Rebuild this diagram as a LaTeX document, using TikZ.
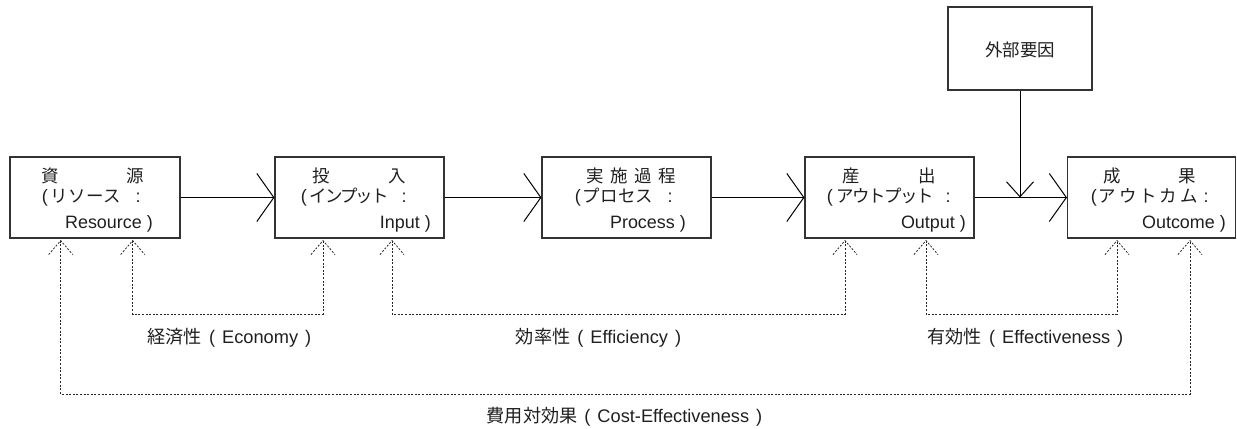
\documentclass[tikz,border=0pt]{standalone}
\usepackage{fontspec}
\setmainfont{Liberation Sans}
\newfontfamily\cjkfont{Noto Sans CJK JP}
\newcommand\jtext[1]{{\cjkfont\fontsize{18.2}{18.2}\selectfont #1}}
\newcommand\gapsp{\hspace{7bp}}
\usetikzlibrary{arrows.meta,calc}
\newcommand\dtip[1]{\draw[dotline] ($(#1)+(-12,14)$) -- (#1) -- ($(#1)+(12,14)$);}
\begin{document}
\begin{tikzpicture}[x=1bp,y=-1bp,
 box/.style={draw=black!80,line width=1.1bp,minimum height=81bp,inner sep=0pt},
 cj/.style={anchor=base west,inner sep=0pt,text=black!88,font=\cjkfont\fontsize{17.5}{17.5}\selectfont},
 lt/.style={anchor=base west,inner sep=0pt,text=black!88,font=\fontsize{18}{18}\selectfont},
 lte/.style={lt,anchor=base east},
 lab/.style={anchor=base,inner sep=0pt,text=black!88,font=\fontsize{18.3}{18.3}\selectfont},
 flow/.style={line width=1bp,-{Straight Barb[length=17bp,width=48bp,line width=1bp]}},
 down/.style={line width=1bp,-{Straight Barb[length=15bp,width=27bp,line width=1bp]}},
 dotline/.style={line width=0.8bp,dash pattern=on 2bp off 1.6bp,black!85}]
\useasboundingbox (0,0) rectangle (1237,428);

% boxes
\node[box,minimum width=170bp] (b1) at (95,197.5) {};
\node[box,minimum width=169bp] (b2) at (359.5,197.5) {};
\node[box,minimum width=169bp] (b3) at (626.5,197.5) {};
\node[box,minimum width=169bp] (b4) at (889.5,197.5) {};
\node[box,minimum width=168bp] (b5) at (1151.5,197.5) {};
\node[box,minimum width=144bp,minimum height=83bp] (ext) at (1020,48.5) {};
\node[cj,anchor=center] (extt) at ([yshift=-1.5bp]ext.center) {外部要因};

% box 1 text
\node[cj] (b1a) at (41,182) {\makebox[103bp][s]{資\hfill 源}};
\node[lt] (b1b) at (41.7,202) {(};
\node[cj] (b1c) at (50.5,202) {\makebox[70.5bp][s]{リ\hss ソ\hss ー\hss ス}};
\node[lt] (b1d) at (135.4,202) {:};
\node[lte] (b1e) at (153,228) {Resource )};

% box 2 text
\node[cj] (b2a) at (312,182) {\makebox[94bp][s]{投\hfill 入}};
\node[lt] (b2b) at (300.7,202) {(};
\node[cj] (b2c) at (309.5,202) {\makebox[79bp][s]{イ\hss ン\hss プ\hss ッ\hss ト}};
\node[lt] (b2d) at (401.4,202) {:};
\node[lte] (b2e) at (431,228) {Input )};

% box 3 text
\node[cj] (b3a) at (586,182) {\makebox[90bp][s]{実\hfill 施\hfill 過\hfill 程}};
\node[lt] (b3b) at (574.7,202) {(};
\node[cj] (b3c) at (582.5,202) {\makebox[70.5bp][s]{プ\hss ロ\hss セ\hss ス}};
\node[lt] (b3d) at (667.4,202) {:};
\node[lte] (b3e) at (686,228) {Process )};

% box 4 text
\node[cj] (b4a) at (842,182) {\makebox[94bp][s]{産\hfill 出}};
\node[lt] (b4b) at (826.7,202) {(};
\node[cj] (b4c) at (836.5,202) {\makebox[97bp][s]{ア\hss ウ\hss ト\hss プ\hss ッ\hss ト}};
\node[lt] (b4d) at (945.4,202) {:};
\node[lte] (b4e) at (966,228) {Output )};

% box 5 text
\node[cj] (b5a) at (1103,182) {\makebox[93bp][s]{成\hfill 果}};
\node[lt] (b5b) at (1090.7,202) {(};
\node[cj] (b5c) at (1098.5,202) {\makebox[99bp][s]{ア\hss ウ\hss ト\hss カ\hss ム}};
\node[lt] (b5d) at (1203.4,202) {:};
\node[lte] (b5e) at (1226,228) {Outcome )};

% main flow
\draw[flow] (b1) -- (b2);
\draw[flow] (b2) -- (b3);
\draw[flow] (b3) -- (b4);
\draw[flow] (b4) -- (b5);
\draw[down] (ext.south) -- (ext.south |- b4.east);

% dotted relations
\coordinate (e1) at (132.7,314); \coordinate (e2) at (323,314);
\coordinate (e3) at (392,314);   \coordinate (e4) at (845,314);
\coordinate (e5) at (926,314);   \coordinate (e6) at (1117,314);
\coordinate (e7) at (60.7,394);  \coordinate (e8) at (1190,394);
\coordinate (p1) at ($(b1.south -| e1)+(0,2)$);
\coordinate (p2) at ($(b2.south -| e2)+(0,2)$);
\coordinate (p3) at ($(b2.south -| e3)+(0,2)$);
\coordinate (p4) at ($(b4.south -| e4)+(0,2)$);
\coordinate (p5) at ($(b4.south -| e5)+(0,2)$);
\coordinate (p6) at ($(b5.south -| e6)+(0,2)$);
\coordinate (p7) at ($(b1.south -| e7)+(0,2)$);
\coordinate (p8) at ($(b5.south -| e8)+(0,2)$);
\draw[dotline] (p1) -- (e1) -- (e2) -- (p2);
\draw[dotline] (p3) -- (e3) -- (e4) -- (p4);
\draw[dotline] (p5) -- (e5) -- (e6) -- (p6);
\draw[dotline] (p7) -- (e7) -- (e8) -- (p8);
\dtip{p1}\dtip{p2}\dtip{p3}\dtip{p4}\dtip{p5}\dtip{p6}\dtip{p7}\dtip{p8}

% labels
\node[lab] (lec) at (229.5,343) {\jtext{経済性}\gapsp(\gapsp Economy\gapsp)};
\node[lab] (lef) at (598.5,343) {\jtext{効率性}\gapsp(\gapsp Efficiency\gapsp)};
\node[lab] (lev) at (1025.5,343) {\jtext{有効性}\gapsp(\gapsp Effectiveness\gapsp)};
\node[lab] (lco) at (624.5,422) {\jtext{費用対効果}\gapsp(\gapsp Cost-Effectiveness\gapsp)};
\end{tikzpicture}
\end{document}
